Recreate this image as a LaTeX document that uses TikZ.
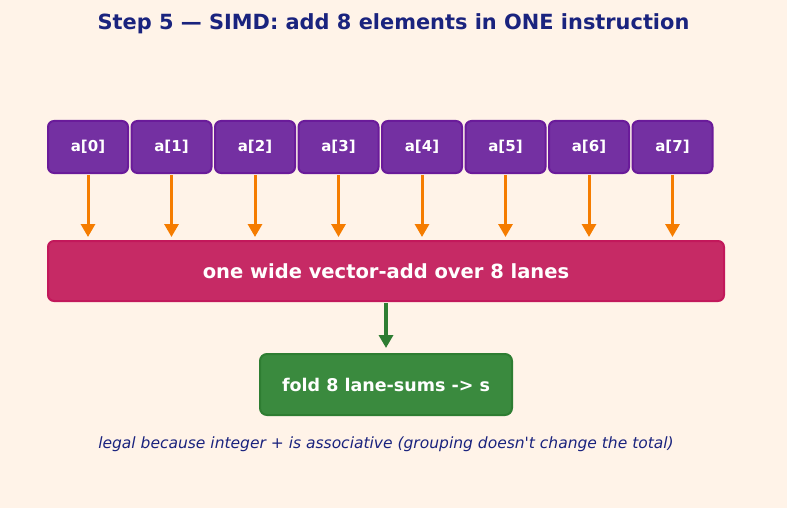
\documentclass[tikz,border=0pt]{standalone}
\usepackage{fontspec}
\setmainfont{DejaVu Sans}
\usepackage{xcolor}
\usetikzlibrary{arrows.meta,positioning}

\definecolor{bgcream}{HTML}{FFF3E8}
\definecolor{titleblue}{HTML}{1A237E}
\definecolor{lanefill}{HTML}{7430A2}
\definecolor{laneedge}{HTML}{6A1B9A}
\definecolor{barfill}{HTML}{C62A65}
\definecolor{baredge}{HTML}{C2185B}
\definecolor{foldfill}{HTML}{3A8A3E}
\definecolor{foldedge}{HTML}{2E7D32}
\definecolor{feedorange}{HTML}{F57C00}

\begin{document}
\begin{tikzpicture}[
    x=1pt, y=-1pt,
    >={Triangle[length=13pt,width=14pt]},
    node distance=1.5pt,
    lane/.style={draw=laneedge, fill=lanefill, line width=2pt, rounded corners=6pt,
                 minimum width=80pt, minimum height=52pt, text=white,
                 font=\fontsize{15}{18}\selectfont\bfseries},
    wideop/.style={draw=baredge, fill=barfill, line width=2pt, rounded corners=6pt,
                   minimum width=676pt, minimum height=60pt, text=white,
                   font=\fontsize{19.5}{23}\selectfont\bfseries},
    foldbox/.style={draw=foldedge, fill=foldfill, line width=2pt, rounded corners=7pt,
                    minimum width=252pt, minimum height=61pt, text=white,
                    font=\fontsize{17.5}{21}\selectfont\bfseries},
    feed/.style={->, draw=feedorange, line width=3pt, shorten >=3pt, shorten <=1pt},
    fold/.style={->, draw=foldedge, line width=3.5pt, shorten >=5pt, shorten <=1pt}
]
    % background and page size
    \fill[bgcream] (0,0) rectangle (787,508);
    \useasboundingbox (0,0) rectangle (787,508);

    \node[text=titleblue, font=\fontsize{20.9}{25}\selectfont\bfseries] (title) at (393.5,23.5)
        {Step 5 — SIMD: add 8 elements in ONE instruction};

    % the eight lanes
    \node[lane] (a0) at (88,147) {a[0]};
    \foreach \i [remember=\i as \prev (initially 0)] in {1,...,7}
        \node[lane, right=of a\prev] (a\i) {a[\i]};

    \node[wideop] (vadd) at (386,271) {one wide vector-add over 8 lanes};
    \node[foldbox] (fold) at (386,384.5) {fold 8 lane-sums -> s};

    \foreach \i in {0,...,7}
        \draw[feed] (a\i.south) -- (a\i.south |- vadd.north);
    \draw[fold] (vadd.south) -- (fold.north);

    \node[text=titleblue, font=\fontsize{15.5}{18}\selectfont\itshape] (note) at (386,444)
        {legal because integer + is associative (grouping doesn\textquotesingle t change the total)};
\end{tikzpicture}
\end{document}
